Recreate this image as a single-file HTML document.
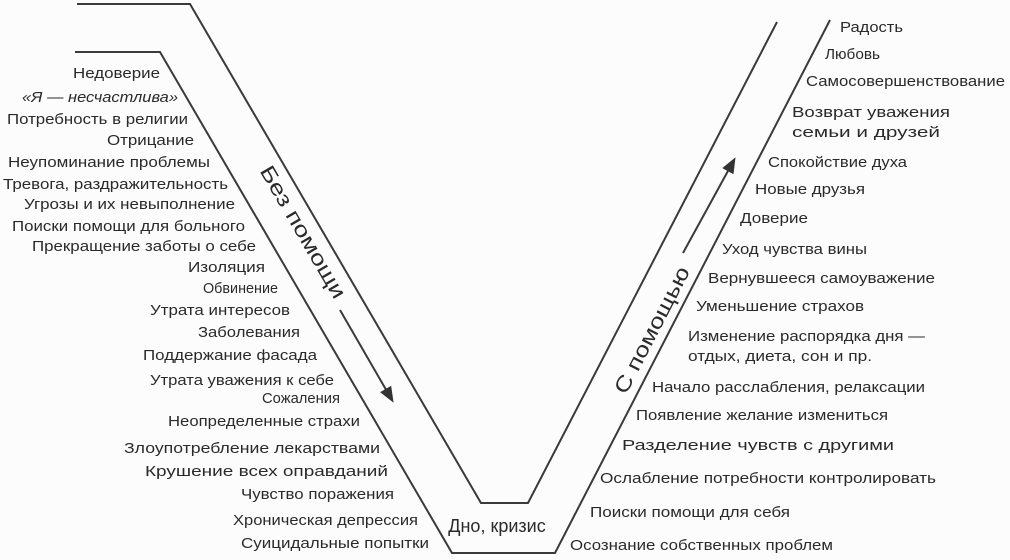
<!DOCTYPE html>
<html><head><meta charset="utf-8"><style>
html,body{margin:0;padding:0;background:#fcfcfc;}
svg{display:block;}
text{font-family:"Liberation Sans",sans-serif;font-size:15px;fill:#2a2a2a;}
</style></head><body>
<svg width="1010" height="560" viewBox="0 0 1010 560" xmlns="http://www.w3.org/2000/svg">
<defs><marker id="ah" viewBox="0 0 10 10" refX="8" refY="5" markerWidth="8" markerHeight="8" orient="auto"><path d="M0,1 L10,5 L0,9 z" fill="#333"/></marker></defs>
<g stroke="#3a3a3a" stroke-width="2" fill="none">
<polyline points="77,4 190,4 481,503 528,503 777,22"/>
<polyline points="75,52 160,52 452,553 555,553 830,20"/>
<line x1="340" y1="310" x2="392" y2="400" marker-end="url(#ah)"/>
<line x1="683" y1="253" x2="734" y2="160" marker-end="url(#ah)"/>
</g>
<text x="303" y="239" text-anchor="middle" transform="rotate(59.8 303 232)" style="font-size:21px" textLength="150" lengthAdjust="spacingAndGlyphs">Без помощи</text>
<text x="652" y="337" text-anchor="middle" transform="rotate(-62.6 652 330)" style="font-size:21px" textLength="140" lengthAdjust="spacingAndGlyphs">С помощью</text>
<text x="497" y="532" text-anchor="middle" style="font-size:18px">Дно, кризис</text>
<text x="73" y="78" textLength="87" lengthAdjust="spacingAndGlyphs">Недоверие</text>
<text x="22" y="102" textLength="156" lengthAdjust="spacingAndGlyphs" font-style="italic">«Я — несчастлива»</text>
<text x="7" y="124" textLength="181" lengthAdjust="spacingAndGlyphs">Потребность в религии</text>
<text x="107" y="145" textLength="87" lengthAdjust="spacingAndGlyphs">Отрицание</text>
<text x="8" y="167" textLength="202" lengthAdjust="spacingAndGlyphs">Неупоминание проблемы</text>
<text x="3" y="189" textLength="225" lengthAdjust="spacingAndGlyphs">Тревога, раздражительность</text>
<text x="24" y="209" textLength="211" lengthAdjust="spacingAndGlyphs">Угрозы и их невыполнение</text>
<text x="12" y="231" textLength="233" lengthAdjust="spacingAndGlyphs">Поиски помощи для больного</text>
<text x="32" y="251" textLength="224" lengthAdjust="spacingAndGlyphs">Прекращение заботы о себе</text>
<text x="188" y="272" textLength="77" lengthAdjust="spacingAndGlyphs">Изоляция</text>
<text x="203" y="293" textLength="75" lengthAdjust="spacingAndGlyphs">Обвинение</text>
<text x="150" y="315" textLength="140" lengthAdjust="spacingAndGlyphs">Утрата интересов</text>
<text x="198" y="337" textLength="102" lengthAdjust="spacingAndGlyphs">Заболевания</text>
<text x="143" y="360" textLength="174" lengthAdjust="spacingAndGlyphs">Поддержание фасада</text>
<text x="150" y="385" textLength="184" lengthAdjust="spacingAndGlyphs">Утрата уважения к себе</text>
<text x="262" y="403" textLength="78" lengthAdjust="spacingAndGlyphs">Сожаления</text>
<text x="168" y="426" textLength="192" lengthAdjust="spacingAndGlyphs">Неопределенные страхи</text>
<text x="124" y="453" textLength="256" lengthAdjust="spacingAndGlyphs">Злоупотребление лекарствами</text>
<text x="145" y="476" textLength="243" lengthAdjust="spacingAndGlyphs">Крушение всех оправданий</text>
<text x="241" y="499" textLength="153" lengthAdjust="spacingAndGlyphs">Чувство поражения</text>
<text x="233" y="525" textLength="185" lengthAdjust="spacingAndGlyphs">Хроническая депрессия</text>
<text x="241" y="548" textLength="188" lengthAdjust="spacingAndGlyphs">Суицидальные попытки</text>

<text x="840" y="32" textLength="63" lengthAdjust="spacingAndGlyphs">Радость</text>
<text x="825" y="59" textLength="55" lengthAdjust="spacingAndGlyphs">Любовь</text>
<text x="806" y="86" textLength="199" lengthAdjust="spacingAndGlyphs">Самосовершенствование</text>
<text x="792" y="117" textLength="158" lengthAdjust="spacingAndGlyphs">Возврат уважения</text>
<text x="792" y="137" textLength="148" lengthAdjust="spacingAndGlyphs">семьи и друзей</text>
<text x="768" y="167" textLength="139" lengthAdjust="spacingAndGlyphs">Спокойствие духа</text>
<text x="755" y="194" textLength="110" lengthAdjust="spacingAndGlyphs">Новые друзья</text>
<text x="740" y="223" textLength="68" lengthAdjust="spacingAndGlyphs">Доверие</text>
<text x="722" y="254" textLength="145" lengthAdjust="spacingAndGlyphs">Уход чувства вины</text>
<text x="708" y="283" textLength="227" lengthAdjust="spacingAndGlyphs">Вернувшееся самоуважение</text>
<text x="696" y="311" textLength="168" lengthAdjust="spacingAndGlyphs">Уменьшение страхов</text>
<text x="688" y="341" textLength="237" lengthAdjust="spacingAndGlyphs">Изменение распорядка дня —</text>
<text x="688" y="361" textLength="184" lengthAdjust="spacingAndGlyphs">отдых, диета, сон и пр.</text>
<text x="652" y="392" textLength="273" lengthAdjust="spacingAndGlyphs">Начало расслабления, релаксации</text>
<text x="636" y="420" textLength="252" lengthAdjust="spacingAndGlyphs">Появление желание измениться</text>
<text x="622" y="450" textLength="272" lengthAdjust="spacingAndGlyphs">Разделение чувств с другими</text>
<text x="600" y="483" textLength="336" lengthAdjust="spacingAndGlyphs">Ослабление потребности контролировать</text>
<text x="590" y="517" textLength="200" lengthAdjust="spacingAndGlyphs">Поиски помощи для себя</text>
<text x="570" y="550" textLength="263" lengthAdjust="spacingAndGlyphs">Осознание собственных проблем</text>
</svg>
</body></html>
